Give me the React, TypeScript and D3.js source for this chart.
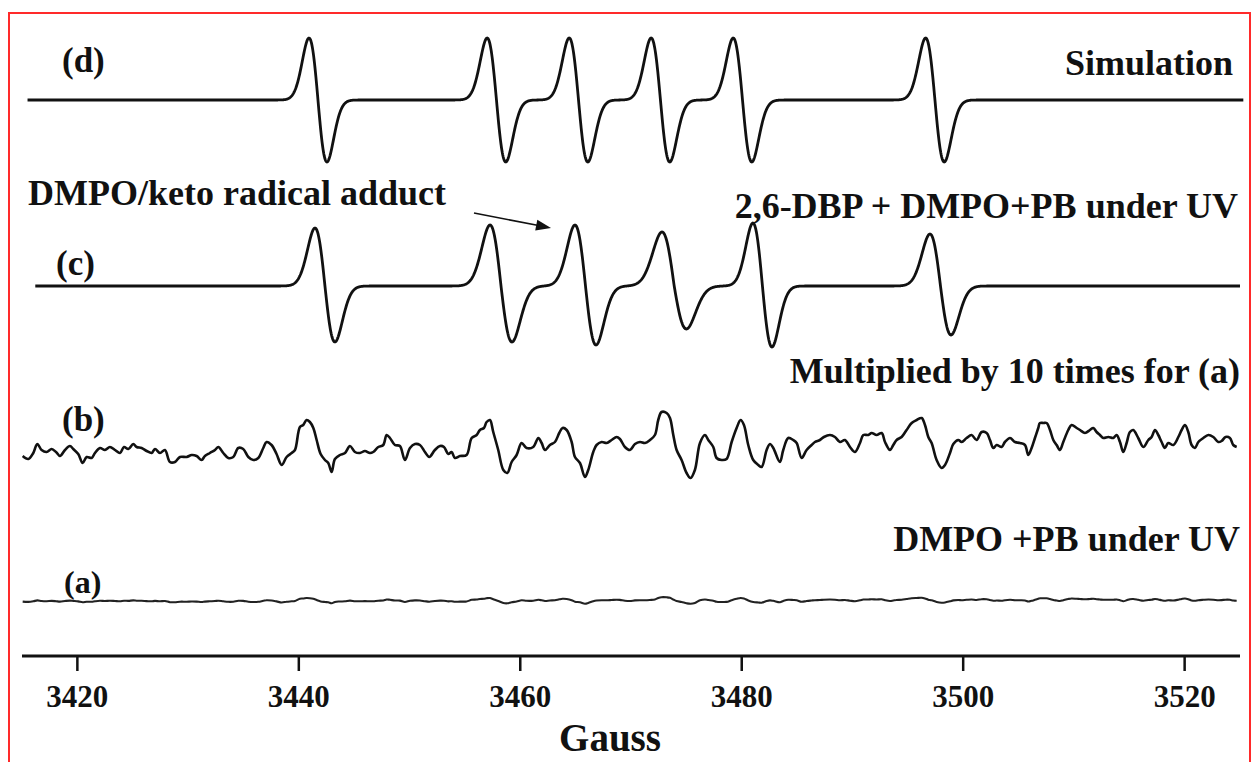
import React from 'react';
import * as d3 from 'd3';

// ---------- data ----------
const fieldDomain: [number, number] = [3415, 3525];
const fieldTicks = [3420, 3440, 3460, 3480, 3500, 3520];

// (d) simulated spectrum: six derivative lines
const simCenters = [3441.73, 3457.85, 3465.26, 3472.66, 3480.07, 3497.45];
const simWidths = [0.81, 0.84, 0.84, 0.84, 0.84, 0.84];
const simPosAmp = [62, 62, 62, 62, 62, 62];
const simNegAmp = [62, 62, 62, 62, 62, 62];

// (c) experimental 2,6-DBP + DMPO + PB under UV
const expCenters = [3442.36, 3458.26, 3465.89, 3473.9, 3481.87, 3497.95];
const expWidths = [0.9, 0.99, 0.95, 1.1, 0.86, 0.95];
const expPosAmp = [58, 61, 61, 54, 63, 52];
const expNegAmp = [56, 56, 59, 43, 61, 49];

// (b) DMPO + PB under UV, multiplied by 10
const fieldB = [
  3415.06, 3415.57, 3416.02, 3416.38, 3416.77, 3417.22, 3417.68, 3418.07, 3418.43, 3418.88,
  3419.33, 3419.63, 3420.08, 3420.48, 3420.84, 3421.29, 3421.59, 3422.04, 3422.49, 3422.94,
  3423.4, 3423.85, 3424.21, 3424.6, 3425.05, 3425.35, 3425.8, 3426.26, 3426.71, 3427.01,
  3427.46, 3427.91, 3428.36, 3428.81, 3429.27, 3429.87, 3430.32, 3430.77, 3431.22, 3431.52,
  3431.97, 3432.43, 3432.73, 3433.18, 3433.63, 3434.08, 3434.53, 3434.98, 3435.44, 3435.89,
  3436.34, 3436.79, 3437.09, 3437.54, 3437.99, 3438.45, 3438.9, 3439.35, 3439.65, 3440.1,
  3440.4, 3440.7, 3441.0, 3441.31, 3441.61, 3441.97, 3442.36, 3442.66, 3442.96, 3443.26,
  3443.71, 3444.17, 3444.62, 3445.07, 3445.52, 3445.97, 3446.42, 3446.72, 3447.18, 3447.63,
  3447.93, 3448.23, 3448.68, 3449.13, 3449.58, 3450.04, 3450.49,
  3450.94, 3451.39, 3451.78, 3452.29, 3452.75, 3453.11, 3453.5, 3453.8, 3454.1, 3454.55,
  3455.15, 3455.61, 3456.06, 3456.36, 3456.72, 3456.96, 3457.26, 3457.56, 3458.01, 3458.47,
  3458.83, 3459.22, 3459.67, 3460.12, 3460.57, 3461.17, 3461.63, 3461.93, 3462.23, 3462.68,
  3463.13, 3463.52, 3463.82, 3464.19, 3464.64, 3464.94, 3465.39, 3465.84, 3466.14, 3466.59,
  3466.89, 3467.35, 3467.8, 3468.25, 3468.7, 3469.0, 3469.45, 3469.9, 3470.36, 3470.81,
  3471.26, 3471.71, 3472.16, 3472.46, 3472.76, 3473.22, 3473.52, 3473.82, 3474.12, 3474.57,
  3475.02, 3475.38, 3475.77, 3476.23, 3476.68, 3476.98, 3477.43, 3477.73, 3478.18, 3478.63,
  3479.09, 3479.54, 3479.9, 3480.2, 3480.59, 3481.04, 3481.49, 3481.8, 3482.25, 3482.55,
  3482.85, 3483.45, 3483.75, 3484.2, 3484.65, 3484.96, 3485.41, 3485.86, 3486.31, 3486.61,
  3487.06, 3487.42,
  3487.97, 3488.42, 3488.87, 3489.32, 3489.78, 3490.23, 3490.68, 3490.98, 3491.43, 3491.73,
  3492.18, 3492.64, 3492.94, 3493.39, 3493.69, 3493.99, 3494.44, 3494.89, 3495.35, 3495.8,
  3496.25, 3496.55, 3496.85, 3497.15, 3497.6, 3498.05, 3498.36, 3498.81, 3499.11, 3499.56,
  3499.86, 3500.31, 3500.76, 3501.21, 3501.67, 3502.12, 3502.42, 3502.72, 3503.02, 3503.47,
  3503.77, 3504.23, 3504.68, 3505.13, 3505.58, 3505.88, 3506.18, 3506.48, 3506.78, 3506.93,
  3507.24, 3507.54, 3507.84, 3508.14, 3508.44, 3508.74, 3509.04, 3509.49, 3509.79, 3510.25,
  3510.55, 3511.0, 3511.45, 3511.75, 3512.05, 3512.35, 3512.65, 3513.11, 3513.56, 3513.86,
  3514.16, 3514.46, 3514.76, 3515.06, 3515.36, 3515.81, 3516.27, 3516.72, 3517.02, 3517.32,
  3517.62, 3517.92, 3518.22, 3518.52, 3518.98, 3519.43, 3519.73, 3520.03, 3520.33, 3520.63,
  3520.93, 3521.24, 3521.69, 3522.14, 3522.59, 3523.04, 3523.34, 3523.7, 3524.09, 3524.39,
  3524.7,
];
const intensityB = [
  -6, -9, -3, 6, 0, -2, 1, -2, -6, 0,
  4, 1, -4, -13, -7, -8, -3, 2, 0, 3,
  0, -3, 3, 1, 6, 3, 2, -1, -3, 1,
  -3, 0, -12, -12, -7, -7, -5, -6, -10, -6,
  -3, 0, 3, -3, -8, -7, 2, 1, -7, -10,
  -8, 2, 8, 5, -4, -15, -7, -3, 0, 23,
  25, 30, 28, 22, 10, -4, -10, -13, -22, -9,
  -5, -3, 4, -2, -3, -1, -3, -2, 3, 5,
  15, 12, 5, 4, -10, 2, 6,
  5, -2, -7, 0, 4, 3, -4, -2, -8, -6,
  -5, 12, 15, 20, 22, 28, 30, 18, 0, -20,
  -23, -12, -5, 7, 2, 3, 12, 7, 0, 5,
  8, 17, 22, 20, 8, -7, -13, -27, -20, -2,
  5, 8, 7, 10, 13, 11, 3, 0, 6, 8,
  7, 10, 15, 30, 38, 37, 32, 15, 0, -10,
  -23, -28, -20, 7, 15, 10, 3, -8, -10, -9,
  8, 22, 30, 25, 5, -10, -15, -17, 0, 6,
  2, -12, 0, 12, 10, 7, -8, 0, 5, 8,
  10, 13,
  15, 13, 8, 10, 3, -2, 7, 15, 15, 17,
  15, 17, 8, 0, 5, 10, 13, 20, 27, 30,
  32, 25, 13, 7, -10, -18, -15, -3, 6, 10,
  8, 12, 15, 10, 18, 17, 10, 2, 5, 3,
  8, 12, 8, 7, 5, -5, 2, 12, 22, 27,
  27, 27, 20, 10, 5, 0, 8, 20, 25, 22,
  20, 17, 20, 22, 18, 15, 12, 13, 12, 15,
  8, -2, 7, 18, 20, 12, 3, 10, 13, 20,
  15, 8, 2, 7, 5, 13, 20, 25, 18, 5,
  2, 8, 12, 15, 13, 8, 9, 13, 12, 5,
  3,
];
// (a) is (b) before the x10 multiplication
const multiplierB = 10;

const labels = {
  d: '(d)', c: '(c)', b: '(b)', a: '(a)',
  sim: 'Simulation',
  adduct: 'DMPO/keto radical adduct',
  sampleC: '2,6-DBP + DMPO+PB under UV',
  mult: 'Multiplied by 10 times for (a)',
  sampleA: 'DMPO +PB under UV',
  axis: 'Gauss',
};

// ---------- helpers ----------
function derivSpectrum(
  fields: number[],
  centers: number[],
  widths: number[],
  pos: number[],
  neg: number[]
): [number, number][] {
  return fields.map((f) => {
    let v = 0;
    centers.forEach((c, i) => {
      const u = (c - f) / widths[i];
      const amp = u >= 0 ? pos[i] : neg[i];
      v += amp * u * Math.exp((1 - u * u) / 2);
    });
    return [f, v];
  });
}

const FONT = '"Liberation Serif", "Times New Roman", Times, serif';

export default function App() {
  const W = 1251;
  const H = 762;
  const x = d3.scaleLinear().domain(fieldDomain).range([22, 1240]);
  const y = d3.scaleLinear().domain([0, 656]).range([656, 0]);
  const off = { d: 556, c: 370, b: 206, a: 55 };

  const simFields = d3.range(3415.5, 3525.3, 0.04);
  const expFields = d3.range(3416.2, 3525.0, 0.04);
  const simData = derivSpectrum(simFields, simCenters, simWidths, simPosAmp, simNegAmp);
  const expData = derivSpectrum(expFields, expCenters, expWidths, expPosAmp, expNegAmp);
  const bData: [number, number][] = fieldB.map((f, i) => [f, intensityB[i]]);
  const aData: [number, number][] = fieldB.map((f, i) => [f, intensityB[i] / multiplierB]);

  const lineAt = (o: number, curve: d3.CurveFactory = d3.curveLinear) =>
    d3
      .line<[number, number]>()
      .x((p) => x(p[0]))
      .y((p) => y(p[1] + o))
      .curve(curve);

  const axisY = y(0);
  const arrowFrom = [474, 213];
  const arrowTo = [551, 228];
  const ang = Math.atan2(arrowTo[1] - arrowFrom[1], arrowTo[0] - arrowFrom[0]);
  const ah = 15;
  const aw = 5.5;
  const headPts = [
    [arrowTo[0], arrowTo[1]],
    [arrowTo[0] - ah * Math.cos(ang) + aw * Math.sin(ang), arrowTo[1] - ah * Math.sin(ang) - aw * Math.cos(ang)],
    [arrowTo[0] - ah * Math.cos(ang) - aw * Math.sin(ang), arrowTo[1] - ah * Math.sin(ang) + aw * Math.cos(ang)],
  ];

  const txt = { fontFamily: FONT, fontWeight: 700 as const, fill: '#111' };

  return (
    <div style={{ position: 'absolute', left: 0, top: 0 }}>
      <svg width={W} height={H} viewBox={`0 0 ${W} ${H}`} style={{ display: 'block', background: '#fff' }}>
        <rect x={0} y={0} width={W} height={H} fill="#fff" />
        {/* red frame */}
        <path d={`M9,${H + 2} V13 H1250 V${H + 2}`} fill="none" stroke="#ff2a2a" strokeWidth={2} />

        {/* traces */}
        <path d={lineAt(off.d)(simData) || ''} fill="none" stroke="#111" strokeWidth={2.8} strokeLinejoin="round" />
        <path d={lineAt(off.c)(expData) || ''} fill="none" stroke="#111" strokeWidth={2.8} strokeLinejoin="round" />
        <path
          d={lineAt(off.b, d3.curveCatmullRom.alpha(0.5))(bData) || ''}
          fill="none"
          stroke="#111"
          strokeWidth={2.6}
          strokeLinejoin="round"
        />
        <path
          d={lineAt(off.a, d3.curveCatmullRom.alpha(0.5))(aData) || ''}
          fill="none"
          stroke="#222"
          strokeWidth={2.1}
          strokeLinejoin="round"
        />

        {/* axis */}
        <line x1={x(fieldDomain[0])} x2={x(fieldDomain[1])} y1={axisY} y2={axisY} stroke="#111" strokeWidth={3} />
        {fieldTicks.map((t) => (
          <g key={t}>
            <line x1={x(t)} x2={x(t)} y1={axisY} y2={axisY + 15} stroke="#111" strokeWidth={2.5} />
            <text x={x(t)} y={707} textAnchor="middle" fontSize={31} {...txt}>
              {t}
            </text>
          </g>
        ))}
        <text x={610} y={751} textAnchor="middle" fontSize={39} {...txt}>
          {labels.axis}
        </text>

        {/* labels */}
        <text x={62} y={72} fontSize={35} {...txt}>{labels.d}</text>
        <text x={1233} y={75} textAnchor="end" fontSize={36} {...txt}>{labels.sim}</text>
        <text x={28} y={205} fontSize={36} {...txt}>{labels.adduct}</text>
        <text x={1238} y={218} textAnchor="end" fontSize={36} {...txt}>{labels.sampleC}</text>
        <text x={56} y={275} fontSize={35} {...txt}>{labels.c}</text>
        <text x={1240} y={383} textAnchor="end" fontSize={36} {...txt}>{labels.mult}</text>
        <text x={62} y={431} fontSize={35} {...txt}>{labels.b}</text>
        <text x={1240} y={551} textAnchor="end" fontSize={36} {...txt}>{labels.sampleA}</text>
        <text x={64} y={593} fontSize={32} {...txt}>{labels.a}</text>

        {/* arrow */}
        <line x1={arrowFrom[0]} y1={arrowFrom[1]} x2={arrowTo[0] - 10 * Math.cos(ang)} y2={arrowTo[1] - 10 * Math.sin(ang)} stroke="#111" strokeWidth={1.6} />
        <polygon points={headPts.map((p) => p.join(',')).join(' ')} fill="#111" />
      </svg>
    </div>
  );
}
